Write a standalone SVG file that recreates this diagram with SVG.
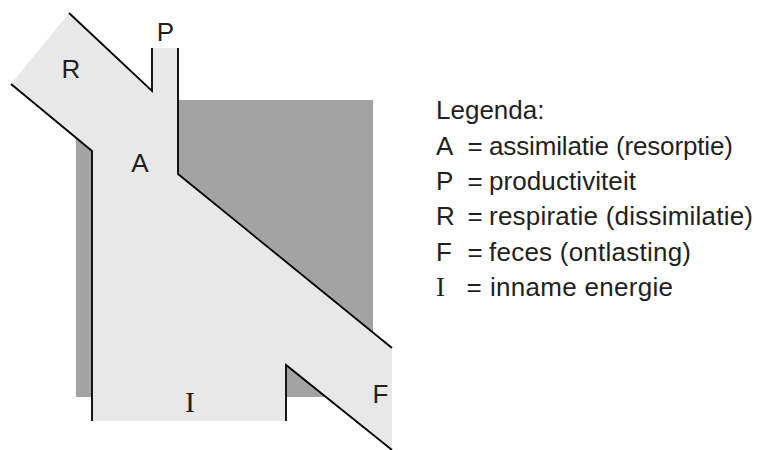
<svg xmlns="http://www.w3.org/2000/svg" width="757" height="450" viewBox="0 0 757 450">
<style>
.lbl{font-family:"Liberation Sans",Arial,sans-serif;font-size:26px;fill:#231f20}
.lbls{font-family:"Liberation Serif","Times New Roman",serif;fill:#231f20}
.leg{font-family:"Liberation Sans",Arial,sans-serif;font-size:26px;fill:#231f20}
.edge{fill:none;stroke:#000;stroke-width:1.8;stroke-linejoin:miter}
</style>
<rect width="757" height="450" fill="#fff"/>
<g id="organism">
<rect x="76" y="100" width="297" height="297" fill="#a3a3a3"/>
</g>
<g id="flow">
<polygon points="69,13 152,91 152,48 178,48 178,174 392,348 392,450 286,365 286,421 92,421 92,151 11,84" fill="#e8e8e8"/>
<polyline class="edge" points="69,13 152,91 152,48"/>
<polyline class="edge" points="178,48 178,174 392,348"/>
<polyline class="edge" points="392,450 286,365 286,421"/>
<polyline class="edge" points="92,421 92,151 11,84"/>
</g>
<g id="labels">
<text class="lbl" x="71" y="78" text-anchor="middle">R</text>
<text class="lbl" x="165.5" y="41" text-anchor="middle">P</text>
<text class="lbl" x="140" y="172" text-anchor="middle">A</text>
<text class="lbls" x="190" y="412" font-size="30" text-anchor="middle">I</text>
<text class="lbl" x="380.5" y="403" text-anchor="middle">F</text>
</g>
<g id="legend">
<text class="leg" x="436" y="119">Legenda:</text>
<text class="leg" x="436" y="154.5">A</text><text class="leg" x="467.5" y="154.5">=</text><text class="leg" x="489" y="154.5" textLength="244" lengthAdjust="spacing">assimilatie (resorptie)</text>
<text class="leg" x="436" y="190">P</text><text class="leg" x="467.5" y="190">=</text><text class="leg" x="489" y="190" textLength="147" lengthAdjust="spacing">productiviteit</text>
<text class="leg" x="436" y="225">R</text><text class="leg" x="467.5" y="225">=</text><text class="leg" x="489" y="225" textLength="264" lengthAdjust="spacing">respiratie (dissimilatie)</text>
<text class="leg" x="436" y="260.5">F</text><text class="leg" x="467.5" y="260.5">=</text><text class="leg" x="489" y="260.5" textLength="202" lengthAdjust="spacing">feces (ontlasting)</text>
<text class="lbls" x="436" y="296" font-size="27">I</text><text class="leg" x="466.5" y="296">=</text><text class="leg" x="490" y="296" textLength="183" lengthAdjust="spacing">inname energie</text>
</g>
</svg>
